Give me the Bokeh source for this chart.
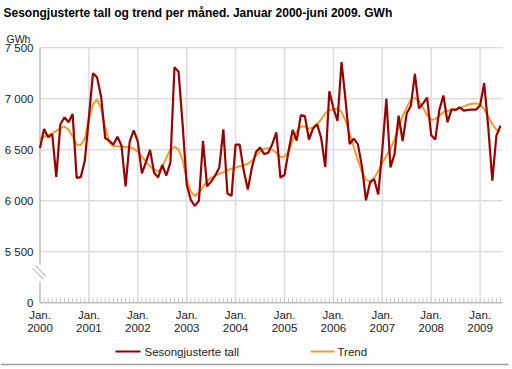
from bokeh.plotting import figure
from bokeh.core.properties import value
from bokeh.embed import file_html
from bokeh.resources import INLINE

# ---- data (GWh, monthly Jan 2000 - Jun 2009) ----
years = ["2000", "2001", "2002", "2003", "2004", "2005", "2006", "2007", "2008", "2009"]
month_label = "Jan."

seasonal = [
    6518, 6704, 6622, 6655, 6235, 6750, 6819, 6770, 6852, 6225, 6232, 6392,
    6820, 7251, 7210, 7020, 6615, 6589, 6550, 6628, 6540, 6142, 6580, 6690,
    6581, 6268, 6380, 6499, 6275, 6229, 6353, 6248, 6376, 7310, 7266, 6750,
    6160, 6010, 5950, 5999, 6586, 6142, 6188, 6248, 6327, 6700, 6071, 6048,
    6550, 6550, 6294, 6110, 6327, 6479, 6523, 6458, 6471, 6555, 6670, 6228,
    6253, 6490, 6694, 6590, 6840, 6830, 6601, 6709, 6750, 6617, 6330, 7074,
    6910, 6782, 7359, 6980, 6556, 6610, 6556, 6340, 6005, 6180, 6212, 6061,
    6500, 7000, 6327, 6458, 6835, 6585, 6860, 6930, 7245, 6905, 6955, 7012,
    6643, 6600, 6892, 7032, 6770, 6897, 6890, 6915, 6884, 6891, 6894, 6894,
    6934, 7153, 6721, 6197, 6639, 6737,
]
trend = [
    6614, 6627, 6643, 6660, 6686, 6713, 6726, 6700, 6630, 6551, 6548, 6610,
    6800, 6945, 6995, 6905, 6720, 6577, 6535, 6535, 6535, 6527, 6527, 6512,
    6482, 6436, 6384, 6335, 6305, 6288, 6330, 6420, 6505, 6528, 6505, 6400,
    6210, 6090, 6048, 6080, 6135, 6190, 6228, 6250, 6265, 6280, 6300, 6315,
    6326, 6338, 6348, 6363, 6392, 6441, 6487, 6512, 6516, 6500, 6470, 6430,
    6435, 6480, 6590, 6680, 6728, 6728, 6708, 6720, 6753, 6797, 6856, 6890,
    6895, 6905, 6870, 6785, 6660, 6525, 6400, 6285, 6205, 6190, 6225, 6290,
    6370, 6440, 6510, 6605, 6720, 6835, 6915, 6990, 7010, 6975, 6910, 6840,
    6795, 6800, 6835, 6868, 6880, 6892, 6899, 6911, 6926, 6942, 6952, 6955,
    6942, 6900, 6825, 6753, 6698, 6679,
]
y_ticks = [5000, 5500, 6000, 6500, 7000, 7500]       # 5000 is drawn as the broken-axis "0"
y_tick_labels = ["0", "5 500", "6 000", "6 500", "7 000", "7 500"]
title_text = "Sesongjusterte tall og trend per måned. Januar 2000-juni 2009. GWh"
unit_text = "GWh"
series_names = ["Sesongjusterte tall", "Trend"]

months = list(range(len(seasonal)))
jan_ticks = [12 * i for i in range(len(years))]

RED = "#990000"
ORANGE = "#f99a2e"
GRID = "#cdcdcd"
VGRID = "#dddddd"
AXIS = "#bdbdbd"
FONT = value("Liberation Sans")
TXT = "#222222"

W, H = 512, 369
# layout of the plotting area in canvas pixels
AX_L, PPM = 39.5, 4.075          # x pixel of first month, pixels per month
Y_BOT_PX, GPP = 302.3, 0.102      # pixel of the "0"/5000 line, pixels per GWh
Y0, Y1 = 5000, 7500
X_END = 113.5

def dx(px):
    return (px - AX_L) / PPM

def dy(py):
    return Y0 + (Y_BOT_PX - py) / GPP

p = figure(width=W, height=H, output_backend="svg", toolbar_location=None,
           title=None, x_range=(dx(0), dx(W)), y_range=(dy(H), dy(0)),
           min_border=0)
p.axis.visible = False
p.grid.visible = False
p.outline_line_color = None
p.background_fill_color = "white"
p.border_fill_color = "white"

# grid lines
p.segment(x0=[0] * 5, y0=y_ticks[1:], x1=[X_END] * 5, y1=y_ticks[1:],
          line_color=GRID, line_width=1)
p.segment(x0=jan_ticks[1:], y0=[Y0] * 9, x1=jan_ticks[1:], y1=[Y1] * 9,
          line_color=VGRID, line_width=1.5)

# x axis: baseline with monthly ticks
p.segment(x0=months, y0=[Y0] * len(months), x1=months,
          y1=[Y0 + 5 / GPP] * len(months), line_color="#c8c8c8", line_width=1)
p.segment(x0=[0], y0=[Y0], x1=[X_END], y1=[Y0], line_color=AXIS, line_width=1.5)

# y axis with break
p.segment(x0=[0, 0], y0=[Y0, dy(264)], x1=[0, 0], y1=[dy(281), Y1],
          line_color=AXIS, line_width=1.5)
p.segment(x0=[dx(32), dx(35)], y0=[dy(267.5), dy(265)],
          x1=[dx(42.5), dx(45)], y1=[dy(278.5), dy(275.5)],
          line_color="#a5a5a5", line_width=1)

# series
p.line(months, trend, line_color=ORANGE, line_width=2)
p.line(months, seasonal, line_color=RED, line_width=2.2)

# tick labels
p.text(x=[dx(33)] * len(y_ticks), y=y_ticks, text=y_tick_labels,
       text_font=FONT, text_font_size="11.5px", text_color=TXT,
       text_align="right", text_baseline="middle")
p.text(x=jan_ticks, y=[dy(314.5)] * len(jan_ticks), text=[month_label] * len(jan_ticks),
       text_font=FONT, text_font_size="11.5px", text_color=TXT,
       text_align="center", text_baseline="middle")
p.text(x=jan_ticks, y=[dy(327.5)] * len(jan_ticks), text=years,
       text_font=FONT, text_font_size="11.5px", text_color=TXT,
       text_align="center", text_baseline="middle")

# title and unit
p.text(x=[dx(3)], y=[dy(12)], text=[title_text], text_font=FONT,
       text_font_size="12px", text_font_style="bold", text_color="#000000",
       text_align="left", text_baseline="middle")
p.text(x=[dx(6)], y=[dy(38)], text=[unit_text], text_font=FONT,
       text_font_size="10.5px", text_color=TXT,
       text_align="left", text_baseline="middle")

# legend
LY = 351
p.segment(x0=[dx(115)], y0=[dy(LY)], x1=[dx(140)], y1=[dy(LY)], line_color=RED, line_width=2)
p.segment(x0=[dx(310)], y0=[dy(LY)], x1=[dx(334)], y1=[dy(LY)], line_color=ORANGE, line_width=2)
p.text(x=[dx(144), dx(337)], y=[dy(LY), dy(LY)], text=series_names, text_font=FONT,
       text_font_size="11.5px", text_color=TXT, text_align="left", text_baseline="middle")

# bottom rule
p.segment(x0=[dx(0)], y0=[dy(364)], x1=[dx(508)], y1=[dy(364)],
          line_color="#9c9c9c", line_width=1.5)

open("out.html", "w").write(file_html(p, INLINE))
